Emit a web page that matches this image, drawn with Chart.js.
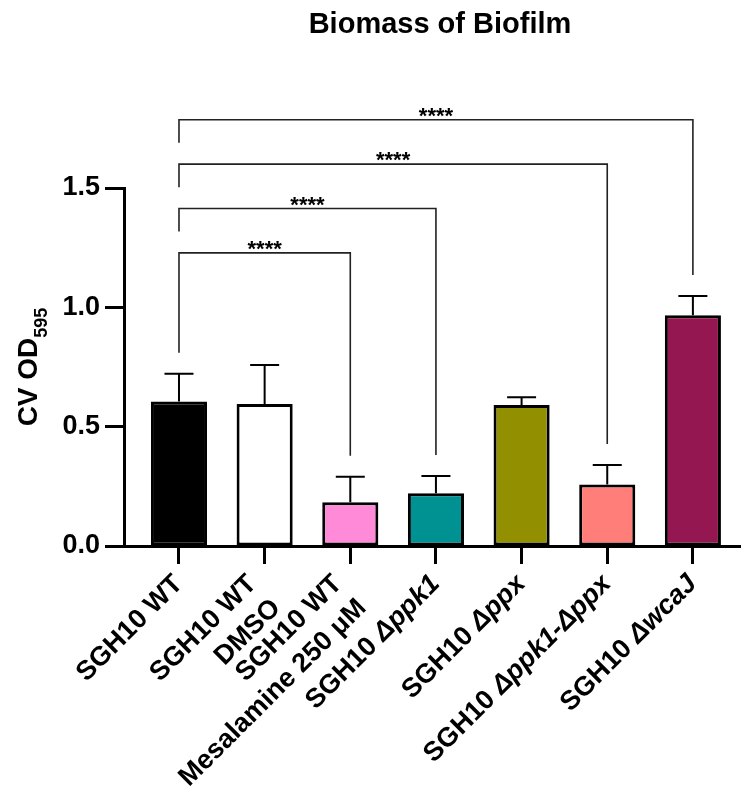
<!DOCTYPE html>
<html>
<head>
<meta charset="utf-8">
<title>Biomass of Biofilm</title>
<script src="https://cdn.jsdelivr.net/npm/chart.js@4.4.1/dist/chart.umd.min.js"></script>
<style>
  html, body { margin: 0; padding: 0; background: #fff; }
  canvas { display: block; }
</style>
</head>
<body>
<canvas id="chart" width="743" height="792"></canvas>
<script>
// Strains / treatments on the x axis
const categories = [
  "SGH10 WT",
  "SGH10 WT DMSO",
  "SGH10 WT Mesalamine 250 μM",
  "SGH10 Δppk1",
  "SGH10 Δppx",
  "SGH10 Δppk1-Δppx",
  "SGH10 ΔwcaJ"
];

// Axis labels, one array of lines per category; _text_ is set in italics
const tickLabels = [
  ["SGH10 WT"],
  ["SGH10 WT", "DMSO"],
  ["SGH10 WT", "Mesalamine 250 μM"],
  ["SGH10 _Δppk1_"],
  ["SGH10 _Δppx_"],
  ["SGH10 _Δppk1-Δppx_"],
  ["SGH10 _ΔwcaJ_"]
];

// Crystal violet OD595, mean and SD
const meanOD = [0.605, 0.595, 0.183, 0.221, 0.591, 0.258, 0.967];
const sdOD   = [0.117, 0.163, 0.107, 0.072, 0.032, 0.081, 0.080];

const barColors = ["#000000", "#FFFFFF", "#FF8AD8", "#009193", "#929000", "#FF7E79", "#941751"];

// y axis ticks
const yTicks = [0, 0.5, 1.0, 1.5];

// Significance comparisons (index pairs) and their labels
const comparisons = [
  { from: 0, to: 2, label: "****" },
  { from: 0, to: 3, label: "****" },
  { from: 0, to: 5, label: "****" },
  { from: 0, to: 6, label: "****" }
];

const FAMILY = "'Liberation Sans', Arial, Helvetica, sans-serif";
Chart.defaults.font.family = FAMILY;
Chart.defaults.color = "#000";

function boldFont(size, italic) {
  return (italic ? "italic " : "") + "bold " + size + "px " + FAMILY;
}

// Split "_..._" markup into plain / italic runs
function parseRuns(line) {
  const parts = line.split("_");
  return parts.map((t, k) => ({ text: t, italic: k % 2 === 1 })).filter(r => r.text.length);
}

const errorBarPlugin = {
  id: "errorBars",
  afterDatasetsDraw(chart) {
    const ctx = chart.ctx;
    const ys = chart.scales.y;
    const meta = chart.getDatasetMeta(0);
    ctx.save();
    ctx.strokeStyle = "#000";
    ctx.lineWidth = 2;
    meta.data.forEach((bar, i) => {
      const x = bar.x;
      const y0 = ys.getPixelForValue(meanOD[i]);
      const y1 = ys.getPixelForValue(meanOD[i] + sdOD[i]);
      ctx.beginPath();
      ctx.moveTo(x, y0);
      ctx.lineTo(x, y1);
      ctx.moveTo(x - 14.5, y1);
      ctx.lineTo(x + 14.5, y1);
      ctx.stroke();
    });
    ctx.restore();
  }
};

const bracketPlugin = {
  id: "brackets",
  afterDraw(chart, args, opts) {
    const ctx = chart.ctx;
    const xs = chart.scales.x, ys = chart.scales.y;
    ctx.save();
    ctx.strokeStyle = "#222";
    ctx.lineWidth = 1.6;
    ctx.fillStyle = "#000";
    ctx.font = boldFont(22);
    ctx.textAlign = "center";
    ctx.textBaseline = "alphabetic";
    comparisons.forEach((c, level) => {
      const yb = ys.getPixelForValue(opts.base + level * opts.step);
      const xa = xs.getPixelForValue(c.from);
      const xb = xs.getPixelForValue(c.to);
      const endB = ys.getPixelForValue(meanOD[c.to] + sdOD[c.to]) - opts.gap;
      const endA = level === 0
        ? ys.getPixelForValue(meanOD[c.from] + sdOD[c.from]) - opts.gap
        : yb + opts.shortLeg;
      ctx.beginPath();
      ctx.moveTo(xa, endA);
      ctx.lineTo(xa, yb);
      ctx.lineTo(xb, yb);
      ctx.lineTo(xb, endB);
      ctx.stroke();
      ctx.fillText(c.label, (xa + xb) / 2, yb + 3);
    });
    ctx.restore();
  }
};

const textPlugin = {
  id: "texts",
  afterDraw(chart) {
    const ctx = chart.ctx;
    const xs = chart.scales.x;
    const area = chart.chartArea;
    ctx.save();
    ctx.fillStyle = "#000";

    // Title
    ctx.font = boldFont(29);
    ctx.textAlign = "center";
    ctx.textBaseline = "alphabetic";
    ctx.fillText("Biomass of Biofilm", 440, 33);

    // y axis title with subscript
    const mainTxt = "CV OD", subTxt = "595";
    ctx.font = boldFont(28);
    const wMain = ctx.measureText(mainTxt).width;
    ctx.font = boldFont(18);
    const wSub = ctx.measureText(subTxt).width;
    const cy = (area.top + area.bottom) / 2;
    ctx.translate(37, cy);
    ctx.rotate(-Math.PI / 2);
    ctx.textAlign = "left";
    const start = -(wMain + wSub) / 2;
    ctx.font = boldFont(28);
    ctx.fillText(mainTxt, start, 0);
    ctx.font = boldFont(18);
    ctx.fillText(subTxt, start + wMain, 10);
    ctx.setTransform(1, 0, 0, 1, 0, 0);

    // Rotated category labels (right-aligned, 45°)
    const lh = 34 * Math.SQRT1_2;
    ctx.textAlign = "left";
    tickLabels.forEach((lines, i) => {
      const px = xs.getPixelForValue(i);
      const n = lines.length;
      lines.forEach((line, j) => {
        const runs = parseRuns(line);
        const bx = px + 5 - (n - 1) * lh / 2 + j * lh;
        const by = area.bottom + 39 + j * lh;
        ctx.save();
        ctx.translate(bx, by);
        ctx.rotate(-Math.PI / 4);
        let w = 0;
        runs.forEach(r => { ctx.font = boldFont(27, r.italic); r.w = ctx.measureText(r.text).width; w += r.w; });
        let x = -w;
        runs.forEach(r => { ctx.font = boldFont(27, r.italic); ctx.fillText(r.text, x, 0); x += r.w; });
        ctx.restore();
      });
    });
    ctx.restore();
  }
};

new Chart(document.getElementById("chart"), {
  type: "bar",
  data: {
    datasets: [{
      data: meanOD.map((v, i) => ({ x: i, y: v })),
      backgroundColor: barColors,
      borderColor: "#000",
      borderWidth: 3,
      borderSkipped: false,
      barPercentage: 0.655,
      categoryPercentage: 1
    }]
  },
  options: {
    responsive: false,
    devicePixelRatio: 1,
    animation: false,
    layout: { padding: { left: 0, right: 3, top: 188, bottom: 0 } },
    plugins: {
      legend: { display: false },
      tooltip: { enabled: false },
      title: { display: false },
      brackets: { base: 1.228, step: 0.186, gap: 21, shortLeg: 23 }
    },
    scales: {
      x: {
        type: "linear",
        offset: false,
        min: -0.642,
        max: 6.55,
        afterBuildTicks: s => { s.ticks = categories.map((_, i) => ({ value: i })); },
        afterFit: s => { s.height = 246; },
        ticks: { display: false },
        grid: { offset: false, drawOnChartArea: false, drawTicks: true, tickLength: 18, tickWidth: 3, tickColor: "#000" },
        border: { display: true, color: "#000", width: 3 }
      },
      y: {
        min: 0,
        max: 1.5,
        afterBuildTicks: s => { s.ticks = yTicks.map(v => ({ value: v })); },
        afterFit: s => { s.width = 124; },
        ticks: {
          padding: 5,
          font: { size: 27, weight: "bold" },
          color: "#000",
          callback: v => Number(v).toFixed(1)
        },
        grid: { drawOnChartArea: false, drawTicks: true, tickLength: 19, tickWidth: 3, tickColor: "#000" },
        border: { display: true, color: "#000", width: 3 }
      }
    }
  },
  plugins: [errorBarPlugin, bracketPlugin, textPlugin]
});
</script>
</body>
</html>
